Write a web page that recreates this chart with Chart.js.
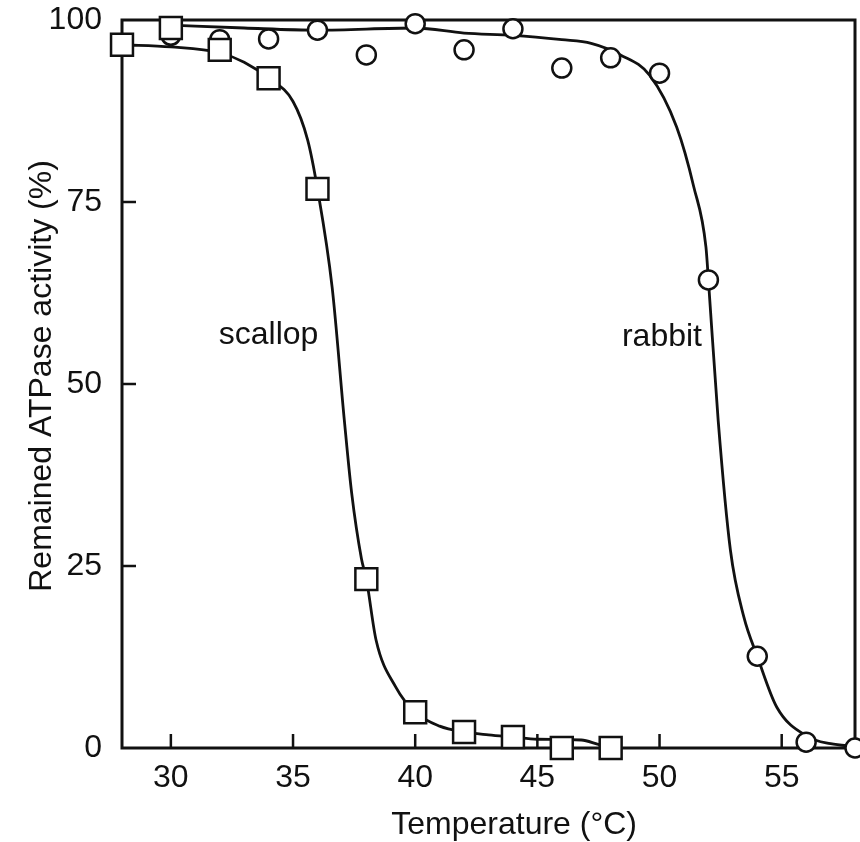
<!DOCTYPE html>
<html>
<head>
<title>Remained ATPase activity vs temperature</title>
<script src="https://cdn.jsdelivr.net/npm/chart.js"></script>
<style>
    body { margin: 0; background: #fff; }
    #chart { display: block; }
</style>
</head>
<body>
<canvas id="chart" width="860" height="842"></canvas>
<script>
    const xTicks = [30, 35, 40, 45, 50, 55];
    const yTicks = [0, 25, 50, 75, 100];

    const scallopTemp = [28, 30, 32, 34, 36, 38, 40, 42, 44, 46, 48];
    const scallopActivity = [96.6, 98.9, 95.9, 92.0, 76.8, 23.2, 4.9, 2.2, 1.5, 0, 0];
    const rabbitTemp = [30, 32, 34, 36, 38, 40, 42, 44, 46, 48, 50, 52, 54, 56, 58];
    const rabbitActivity = [97.9, 97.3, 97.4, 98.6, 95.2, 99.5, 95.9, 98.8, 93.4, 94.8, 92.7, 64.3, 12.6, 0.8, 0];

    // the hand-drawn curves
    const scallopCurveTemp = [28, 30, 32, 33, 34, 35, 35.6, 36, 36.6, 37.1, 37.4, 37.8, 38, 38.4, 39.2, 40, 41, 42, 43, 44, 45, 46.8, 47.6, 48];
    const scallopCurveActivity = [96.6, 96.3, 95.5, 94.2, 92.0, 88.8, 83.5, 76.8, 63.3, 45, 35, 26, 23.2, 14.8, 8.4, 4.9, 3.0, 2.2, 1.8, 1.5, 1.2, 1.1, 0.4, 0.3];
    const rabbitCurveTemp = [30, 33, 36, 40, 42, 44, 46, 47.2, 48.4, 49.6, 50.7, 51.4, 51.9, 52, 52.4, 52.9, 53.45, 54, 54.8, 56.1, 57, 58];
    const rabbitCurveActivity = [99.3, 98.9, 98.6, 98.9, 98.2, 97.9, 97.3, 96.8, 95.2, 92.4, 85.3, 77.1, 68.8, 64.3, 45, 27.2, 18, 12.6, 5.6, 1.5, 0.6, 0.2];

    const seriesLabels = [
        { text: "scallop", t: 34, v: 56.7 },
        { text: "rabbit", t: 50.1, v: 56.4 }
    ];
    const xTitle = "Temperature (°C)";
    const yTitle = "Remained ATPase activity (%)";

    const ink = "#111";
    const fontFamily = "'Liberation Sans', Arial, sans-serif";

    const toPoints = (xs, ys) => xs.map((x, i) => ({ x: x, y: ys[i] }));

    // frame, inward ticks, axis titles and the series names
    const framePlugin = {
        id: "frame",
        beforeDatasetsDraw(chart) {
            const { ctx, chartArea: a, scales } = chart;
            ctx.save();
            ctx.strokeStyle = ink;
            ctx.lineWidth = 3;
            ctx.strokeRect(a.left, a.top, a.right - a.left, a.bottom - a.top);
            ctx.lineWidth = 2.5;
            ctx.beginPath();
            xTicks.forEach(v => {
                const px = scales.x.getPixelForValue(v);
                ctx.moveTo(px, a.bottom);
                ctx.lineTo(px, a.bottom - 14);
            });
            yTicks.slice(1, -1).forEach(v => {
                const py = scales.y.getPixelForValue(v);
                ctx.moveTo(a.left, py);
                ctx.lineTo(a.left + 14, py);
            });
            ctx.stroke();

            ctx.fillStyle = ink;
            ctx.font = "32px " + fontFamily;
            ctx.textAlign = "center";
            ctx.textBaseline = "middle";
            seriesLabels.forEach(l => {
                ctx.fillText(l.text, scales.x.getPixelForValue(l.t), scales.y.getPixelForValue(l.v));
            });

            // axis titles sit a little off-centre in the original
            ctx.textBaseline = "alphabetic";
            ctx.fillText(xTitle, a.left + (a.right - a.left) * 0.535, 834);
            ctx.translate(51, a.top + (a.bottom - a.top) * 0.489);
            ctx.rotate(-Math.PI / 2);
            ctx.fillText(yTitle, 0, 0);
            ctx.restore();
        }
    };

    new Chart(document.getElementById("chart"), {
        type: "scatter",
        data: {
            datasets: [
                {
                    label: "scallop",
                    data: toPoints(scallopTemp, scallopActivity),
                    pointStyle: "rect",
                    pointRadius: 15.5,
                    pointBorderWidth: 2.5,
                    pointBackgroundColor: "#fff",
                    pointBorderColor: ink,
                    order: 0,
                    clip: false
                },
                {
                    label: "rabbit",
                    data: toPoints(rabbitTemp, rabbitActivity),
                    pointStyle: "circle",
                    pointRadius: 9.5,
                    pointBorderWidth: 2.5,
                    pointBackgroundColor: "#fff",
                    pointBorderColor: ink,
                    order: 1,
                    clip: false
                },
                {
                    label: "scallop curve",
                    data: toPoints(scallopCurveTemp, scallopCurveActivity),
                    showLine: true,
                    pointRadius: 0,
                    borderColor: ink,
                    borderWidth: 2.8,
                    cubicInterpolationMode: "monotone",
                    order: 2,
                    clip: false
                },
                {
                    label: "rabbit curve",
                    data: toPoints(rabbitCurveTemp, rabbitCurveActivity),
                    showLine: true,
                    pointRadius: 0,
                    borderColor: ink,
                    borderWidth: 2.8,
                    cubicInterpolationMode: "monotone",
                    order: 2,
                    clip: false
                }
            ]
        },
        options: {
            responsive: false,
            devicePixelRatio: 1,
            animation: false,
            layout: { autoPadding: false, padding: { top: 20, right: 5, bottom: 0, left: 0 } },
            plugins: {
                legend: { display: false },
                tooltip: { enabled: false }
            },
            scales: {
                x: {
                    type: "linear",
                    min: 28,
                    max: 58,
                    afterBuildTicks: s => { s.ticks = xTicks.map(v => ({ value: v })); },
                    afterFit: s => {
                        s.height = 842 - 748;
                        s.paddingLeft = 0;
                        s.paddingRight = 0;
                    },
                    grid: { display: false, drawTicks: false },
                    border: { display: false },
                    ticks: {
                        color: ink,
                        padding: 11,
                        maxRotation: 0,
                        font: { family: fontFamily, size: 32 }
                    }
                },
                y: {
                    type: "linear",
                    min: 0,
                    max: 100,
                    afterBuildTicks: s => { s.ticks = yTicks.map(v => ({ value: v })); },
                    afterFit: s => {
                        s.width = 122;
                        s.paddingTop = 0;
                        s.paddingBottom = 0;
                    },
                    grid: { display: false, drawTicks: false },
                    border: { display: false },
                    ticks: {
                        color: ink,
                        padding: 20,
                        font: { family: fontFamily, size: 32 }
                    }
                }
            }
        },
        plugins: [framePlugin]
    });
</script>
</body>
</html>
